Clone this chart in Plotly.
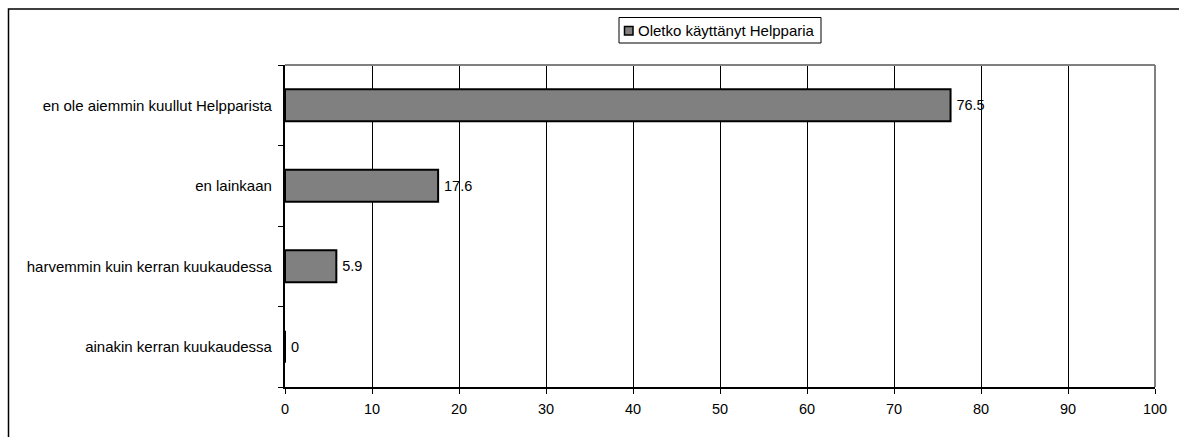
import plotly.graph_objects as go

categories = ["ainakin kerran kuukaudessa",
              "harvemmin kuin kerran kuukaudessa",
              "en lainkaan",
              "en ole aiemmin kuullut Helpparista"]
values = [0, 5.9, 17.6, 76.5]
value_labels = ["0", "5.9", "17.6", "76.5"]
series_name = "Oletko käyttänyt Helpparia"
x_ticks = [0, 10, 20, 30, 40, 50, 60, 70, 80, 90, 100]

W, H = 1179, 437
L, R, T, B = 285, 24, 65, 50
pw, ph = W - L - R, H - T - B
FONT = "Liberation Sans, Arial"
FS = 14.5
FS_CAT = 15

fig = go.Figure()
fig.add_trace(go.Bar(
    y=categories, x=values, orientation="h", name=series_name,
    marker=dict(color="#808080", line=dict(color="#000000", width=2)),
    text=value_labels, texttemplate="\u2009%{text}", textposition="outside",
    cliponaxis=False,
    textfont=dict(family=FONT, size=FS, color="#000"),
    showlegend=False,
))

def px_x(p):
    return (p - L) / pw

def px_y(p):
    return (H - B - p) / ph

shapes = [
    # outer chart frame (cropped on right/bottom)
    dict(type="rect", xref="paper", yref="paper",
         x0=px_x(8.5), x1=px_x(1300), y0=px_y(600), y1=px_y(9),
         line=dict(color="#000", width=1.5), layer="below"),
    # plot area border top/right gray
    dict(type="line", xref="paper", yref="paper", x0=0, x1=1, y0=1, y1=1,
         line=dict(color="#808080", width=2)),
    dict(type="line", xref="paper", yref="paper", x0=1, x1=1, y0=0, y1=1,
         line=dict(color="#808080", width=2)),
    # legend box
    dict(type="rect", xref="paper", yref="paper",
         x0=px_x(619), x1=px_x(821), y0=px_y(43), y1=px_y(17.5),
         line=dict(color="#000", width=1), fillcolor="white"),
    # legend key
    dict(type="rect", xref="paper", yref="paper",
         x0=px_x(624.5), x1=px_x(633), y0=px_y(35), y1=px_y(26.5),
         line=dict(color="#000", width=1.5), fillcolor="#808080"),
]

annotations = [
    dict(xref="paper", yref="paper", x=px_x(636), y=px_y(30.5),
         xanchor="left", yanchor="middle", showarrow=False,
         text=series_name, font=dict(family=FONT, size=FS_CAT, color="#000")),
]

fig.update_layout(
    width=W, height=H,
    margin=dict(l=L, r=R, t=T, b=B, autoexpand=False),
    paper_bgcolor="white", plot_bgcolor="white",
    font=dict(family=FONT, size=FS, color="#000"),
    bargap=0.6,
    shapes=shapes,
    annotations=annotations,
    showlegend=False,
    xaxis=dict(range=[0, 100], tickvals=x_ticks, ticks="outside", ticklen=5,
               tickcolor="#000", showgrid=True, gridcolor="#000", gridwidth=1,
               showline=True, linecolor="#000", linewidth=1.5, zeroline=False,
               tickfont=dict(size=FS), ticklabelstandoff=3),
    yaxis=dict(categoryorder="array", categoryarray=categories,
               ticks="outside", ticklen=5, tickcolor="#000", tickson="boundaries",
               showline=True, linecolor="#000", linewidth=1.5, showgrid=False,
               ticksuffix="  ", tickfont=dict(size=FS_CAT)),
)

fig.write_html("out.html", config={"displayModeBar": False},
               post_script="document.body.style.margin='0';")
